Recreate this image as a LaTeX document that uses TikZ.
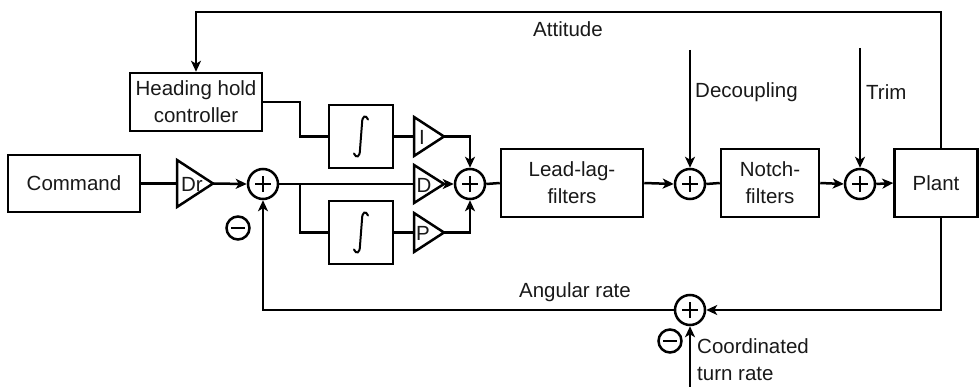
\documentclass[tikz,border=0pt]{standalone}
\usepackage{fontspec}
\setmainfont{Liberation Sans}
\usetikzlibrary{arrows.meta}
\begin{document}
\begin{tikzpicture}[x=1pt,y=-1pt,
  every node/.style={font=\fontsize{20.5}{27}\selectfont, text=black!90},
  blk/.style={draw, line width=2.5pt, inner sep=0pt, align=center},
  sumc/.style={draw, circle, line width=2.5pt, minimum size=30pt, inner sep=0pt},
  minc/.style={draw, circle, line width=2.5pt, minimum size=23pt, inner sep=0pt},
  wire/.style={line width=2.5pt},
  arr/.style={line width=2.5pt, -{Stealth[length=11pt,width=10pt,inset=3pt]}},
  lbl/.style={inner sep=0pt},
  gain/.style={line width=2.5pt, line join=miter}
]
\useasboundingbox (0,0) rectangle (979,387);

% blocks
\node[blk, minimum width=132pt, minimum height=57pt] (cmd) at (74,183.5) {Command};
\node[blk, minimum width=132pt, minimum height=58pt] (hh) at (196,102) {Heading hold\\controller};
\node[blk, minimum width=64pt, minimum height=63pt] (int1) at (361,136.5) {};
\node[blk, minimum width=64pt, minimum height=63pt] (int2) at (361,232.5) {};
\node[blk, minimum width=142pt, minimum height=68pt] (lead) at (572,183) {Lead-lag-\\filters};
\node[blk, minimum width=98pt, minimum height=68pt] (notch) at (770,183) {Notch-\\filters};
\node[blk, minimum width=83pt, minimum height=68pt] (plant) at (936,183) {Plant};

% integral signs
\foreach \n in {int1,int2}{
  \draw[line width=2pt, line cap=round] ([xshift=7pt,yshift=17pt]\n.center)
    .. controls ([xshift=5pt,yshift=22pt]\n.center) and ([xshift=1pt,yshift=21pt]\n.center) .. ([xshift=1pt,yshift=13pt]\n.center)
    -- ([xshift=-1pt,yshift=-13pt]\n.center)
    .. controls ([xshift=-1pt,yshift=-21pt]\n.center) and ([xshift=-5pt,yshift=-22pt]\n.center) .. ([xshift=-7pt,yshift=-17pt]\n.center);
}

% gains (triangles)
\coordinate (drin) at (177,183.5); \coordinate (drout) at (213,183.5);
\draw[gain] (177,160) -- (213,183.5) -- (177,207) -- cycle;
\node[lbl] (drt) at (192,184) {Dr};

\coordinate (iin) at (414,136.5); \coordinate (iout) at (444,136.5);
\draw[gain] (414,117) -- (444,136.5) -- (414,156) -- cycle;
\node[lbl] (it) at (422,137) {I};

\coordinate (din) at (414,184); \coordinate (dout) at (444,184);
\draw[gain] (414,165) -- (444,184) -- (414,203) -- cycle;
\node[lbl] (dt) at (424,185) {D};

\coordinate (pin) at (414,232.5); \coordinate (pout) at (444,232.5);
\draw[gain] (414,213) -- (444,232.5) -- (414,252) -- cycle;
\node[lbl] (pt) at (423,233) {P};

% summing junctions
\node[sumc] (s1) at (263,184) {};
\node[sumc] (s2) at (470,184) {};
\node[sumc] (s3) at (690,184) {};
\node[sumc] (s4) at (860,184) {};
\node[sumc] (s5) at (690,310) {};
\foreach \s in {s1,s2,s3,s4,s5}{
  \draw[line width=1.8pt] ([xshift=-8pt]\s.center) -- ([xshift=8pt]\s.center)
    ([yshift=-8pt]\s.center) -- ([yshift=8pt]\s.center);
}
\node[minc] (m1) at (238,228) {};
\node[minc] (m2) at (670,341) {};
\foreach \s in {m1,m2}{
  \draw[line width=2pt] ([xshift=-7pt]\s.center) -- ([xshift=7pt]\s.center);
}

% coordinates
\coordinate (brA) at (300,184);
\coordinate (decin) at (690,50);
\coordinate (trimin) at (860,48);
\coordinate (ptop) at (941,149);
\coordinate (pbot) at (941,217);
\coordinate (ctr) at (690,387);

% connectors
\draw[wire] (cmd.east) -- (drin);
\draw[arr] (drout) -- (s1.west);
\draw[wire] (s1.east) -- (din);
\draw[wire] (brA) |- (int2.west);
\draw[wire] (int2.east) -- (pin);
\draw[arr] (pout) -| (s2.south);
\draw[wire] (hh.east |- 0,102) -- (300,102) |- (int1.west);
\draw[wire] (int1.east) -- (iin);
\draw[arr] (iout) -| (s2.north);
\draw[arr] (dout) -- (s2.west);
\draw[wire] (s2.east) -- (lead.west);
\draw[arr] (lead.east) -- (s3.west);
\draw[arr] (decin) -- (s3.north);
\draw[wire] (s3.east) -- (notch.west);
\draw[arr] (notch.east) -- (s4.west);
\draw[arr] (trimin) -- (s4.north);
\draw[arr] (s4.east) -- (plant.west);
\draw[arr] (ptop) |- (196,12) -- (hh.north);
\draw[arr] (pbot) |- (s5.east);
\draw[arr] (s5.west) -| (s1.south);
\draw[arr] (ctr) -- (s5.south);

% labels
\node[lbl] (att) at (568,29) {Attitude};
\node[lbl, anchor=west] (dec) at (695,92) {Decoupling};
\node[lbl, anchor=west] (trim) at (866,92) {Trim};
\node[lbl] (ang) at (575,292) {Angular rate};
\node[lbl, anchor=west, align=left] (ctrl) at (697,360) {Coordinated\\turn rate};
\end{tikzpicture}
\end{document}
